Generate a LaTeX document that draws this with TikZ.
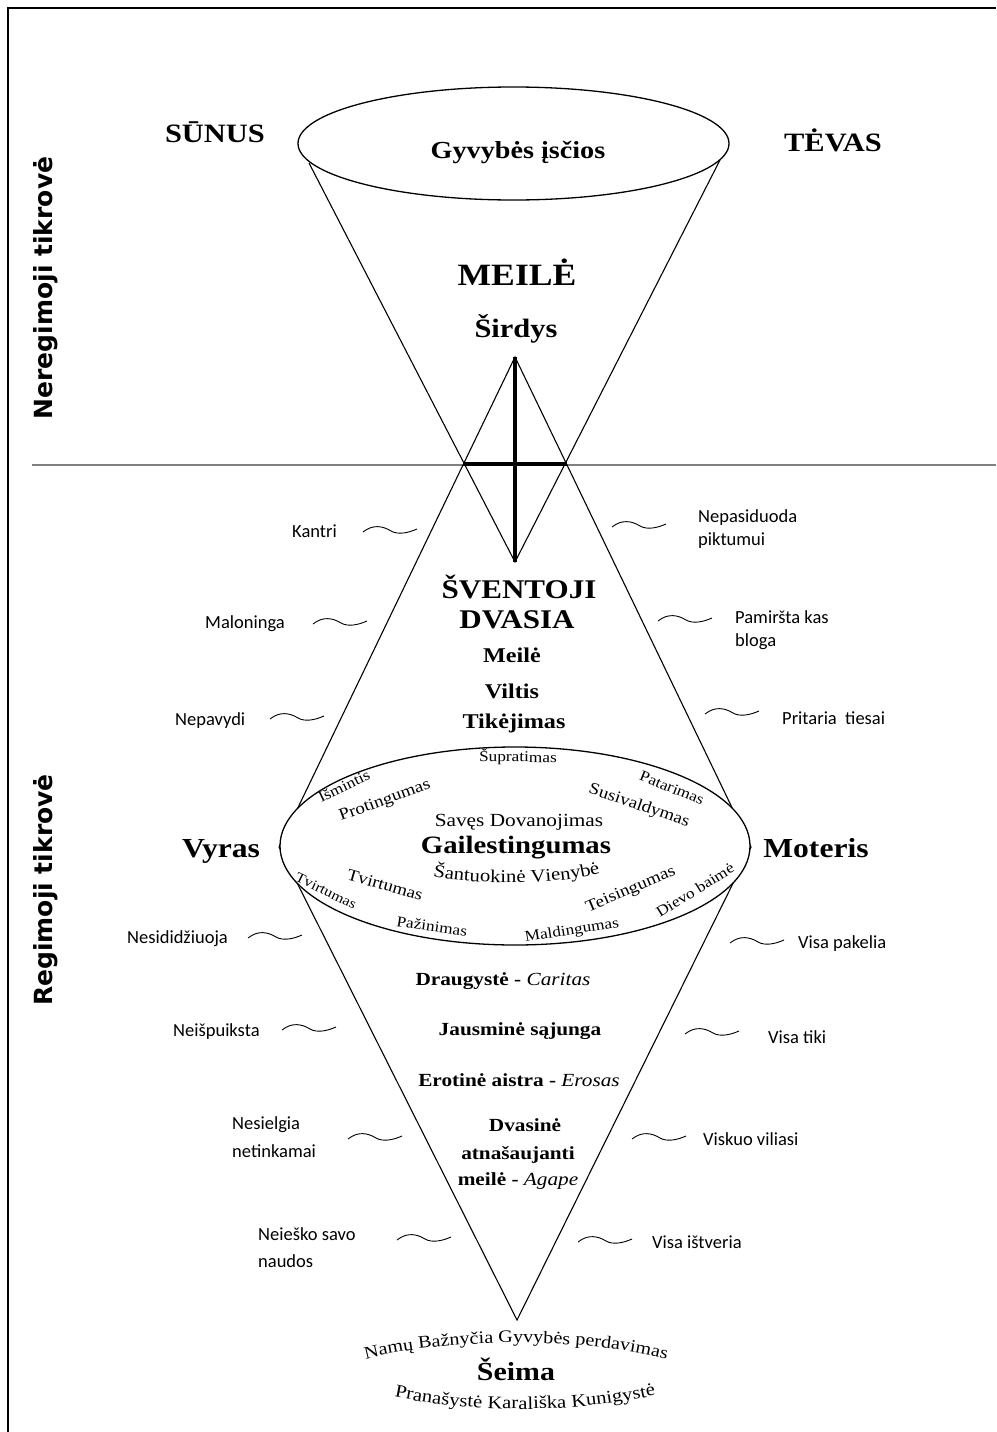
\documentclass[tikz,border=0pt]{standalone}
\usepackage{fontspec}
\setmainfont{Liberation Serif}[FakeStretch=1.15]
\newfontfamily\labfont{Carlito}
\newfontfamily\vertfont{DejaVu Sans}
\usetikzlibrary{decorations.text}
\begin{document}
\begin{tikzpicture}[x=1pt,y=-1pt,
  thin line/.style={line width=1.1pt, black},
  big/.style={font=\bfseries\fontsize{26.5}{30}\selectfont, anchor=base, inner sep=0pt},
  huge/.style={font=\bfseries\fontsize{31}{34}\selectfont, anchor=base, inner sep=0pt},
  mid/.style={font=\bfseries\fontsize{21}{24}\selectfont, anchor=base, inner sep=0pt},
  lab/.style={font=\labfont\fontsize{18.5}{22}\selectfont, anchor=base west, inner sep=0pt},
  innertxt/.style={font=\fontsize{16.5}{18}\selectfont, inner sep=0pt},
  outertxt/.style={font=\fontsize{15}{17}\selectfont, inner sep=0pt},
  love/.style={font=\bfseries\fontsize{18.5}{21}\selectfont, anchor=base, inner sep=0pt},
  vert/.style={font=\vertfont\bfseries\fontsize{25}{28}\selectfont, rotate=90, inner sep=0pt},
  wave/.pic={\draw[line width=0.9pt] (0,0) .. controls (10,-8) and (20,-6) .. (28,-1) .. controls (35,3) and (45,1) .. (54,-3);}
]
\useasboundingbox (0,0) rectangle (996,1432);
% frame
\draw[line width=1.6pt] (8,1432) -- (8,8) -- (996,8);
% horizon line
\draw[line width=2.2pt, black!50] (32,465) -- (996,465);

% coordinates
\coordinate (cL) at (309,163);
\coordinate (cR) at (720,160);
\coordinate (cA) at (515,562);
\coordinate (dT) at (515,357);
\coordinate (dL) at (279,847);
\coordinate (dB) at (517,1320);
\coordinate (dR) at (751,847);
\coordinate (hL) at (463,464);
\coordinate (hR) at (567,464);

% top cone
\draw[thin line] (cL) -- (cA) -- (cR);
% diamond
\draw[thin line] (dT) -- (dL) -- (dB) -- (dR) -- cycle;
% top ellipse
\draw[line width=1.3pt] (513.5,143.5) ellipse [x radius=215.5pt, y radius=56.5pt];
% lower ellipse
\draw[line width=1.3pt, fill=white] (515,846) ellipse [x radius=235pt, y radius=99pt];
% cross
\draw[line width=3.6pt] (dT) -- (cA);
\draw[line width=3.6pt] (hL) -- (hR);

% top texts
\node[big] (sunus) at (215,142) {SŪNUS};
\node[big] (tevas) at (833,151) {TĖVAS};
\node[big, font=\bfseries\fontsize{24.5}{28}\selectfont] (gyv) at (518,158) {Gyvybės įsčios};
\node[huge] (meile) at (517,285) {MEILĖ};
\node[big] (sird) at (516,337) {Širdys};

% vertical texts
\node[vert] (nereg) at (46,288) {Neregimoji tikrovė};
\node[vert] (reg) at (46,890) {Regimoji tikrovė};

% Holy spirit
\node[big, font=\bfseries\fontsize{27}{30}\selectfont] (svent) at (519,598) {ŠVENTOJI};
\node[big, font=\bfseries\fontsize{27}{30}\selectfont] (dvas) at (517,628) {DVASIA};
\node[mid] (meile2) at (512,662) {Meilė};
\node[mid] (viltis) at (512,698) {Viltis};
\node[mid] (tikej) at (514,728) {Tikėjimas};

% ellipse content
\node[outertxt, rotate=-1] (supr) at (518,757) {Šupratimas};
\node[outertxt, rotate=26] (ismin) at (344,786) {Išmintis};
\node[innertxt, rotate=20] (proting) at (385,801) {Protingumas};
\node[outertxt, rotate=-22] (patar) at (672,788) {Patarimas};
\node[innertxt, rotate=-19] (susiv) at (639,806) {Susivaldymas};
\node[font=\fontsize{18.5}{20}\selectfont, anchor=base, inner sep=0pt] (saves) at (519,826) {Savęs Dovanojimas};
\node[font=\bfseries\fontsize{25}{28}\selectfont, anchor=base, inner sep=0pt] (gail) at (516,853) {Gailestingumas};
\path[decorate, decoration={text along path, text align=center,
  text={|\fontsize{18}{20}\selectfont|Šantuokinė Vienybė}}]
  (425,874) .. controls (460,886) and (572,886) .. (608,870);
\node[innertxt, rotate=-16] (tvirt) at (385,885) {Tvirtumas};
\node[outertxt, font=\fontsize{14}{16}\selectfont, rotate=-26] (tvirt2) at (326,891) {Tvirtumas};
\node[outertxt, rotate=-8] (pazin) at (432,926) {Pažinimas};
\node[outertxt, rotate=9] (malding) at (572,931) {Maldingumas};
\node[innertxt, rotate=23] (teis) at (631,890) {Teisingumas};
\node[outertxt, rotate=32] (dievo) at (695,890) {Dievo baimė};

% man and woman
\node[big, font=\bfseries\fontsize{27.5}{30}\selectfont] (vyras) at (221,857) {Vyras};
\node[big, font=\bfseries\fontsize{27.5}{30}\selectfont] (moteris) at (816,857) {Moteris};

% kinds of love
\node[love] (drau) at (503,985) {Draugystė - {\mdseries\itshape Caritas}};
\node[love] (jaus) at (520,1035) {Jausminė sąjunga};
\node[love] (erot) at (519,1086) {Erotinė aistra - {\mdseries\itshape Erosas}};
\node[love] (dvasine) at (525,1131) {Dvasinė};
\node[love] (atnas) at (518,1159) {atnašaujanti};
\node[love] (agape) at (518,1185) {meilė - {\mdseries\itshape Agape}};

% family
\path[decorate, decoration={text along path, text align=center,
  text={|\fontsize{17.5}{20}\selectfont|Namų Bažnyčia Gyvybės perdavimas}}]
  (352,1363) .. controls (440,1336) and (592,1336) .. (680,1363);
\node[big, font=\bfseries\fontsize{26}{30}\selectfont] (seima) at (516,1380) {Šeima};
\path[decorate, decoration={text along path, text align=center,
  text={|\fontsize{18}{20}\selectfont|Pranašystė Karališka Kunigystė}}]
  (374,1392) .. controls (466,1415) and (584,1415) .. (676,1390);

% left labels
\node[lab] (kantri) at (292,537) {Kantri};
\node[lab] (malon) at (205,628) {Maloninga};
\node[lab] (nepav) at (175,725) {Nepavydi};
\node[lab] (nesid) at (127,943) {Nesididžiuoja};
\node[lab] (neisp) at (173,1036) {Neišpuiksta};
\node[lab] (nesie1) at (232,1129) {Nesielgia};
\node[lab] (nesie2) at (232,1157) {netinkamai};
\node[lab] (neies1) at (258,1240) {Neieško savo};
\node[lab] (neies2) at (258,1267) {naudos};
% right labels
\node[lab] (nepas1) at (698,522) {Nepasiduoda};
\node[lab] (nepas2) at (698,545) {piktumui};
\node[lab] (pam1) at (735,623) {Pamiršta kas};
\node[lab] (pam2) at (735,646) {bloga};
\node[lab] (prit) at (782,724) {Pritaria~~tiesai};
\node[lab] (vpak) at (798,948) {Visa pakelia};
\node[lab] (vtik) at (768,1043) {Visa tiki};
\node[lab] (vvil) at (703,1145) {Viskuo viliasi};
\node[lab] (vist) at (652,1248) {Visa ištveria};

% waves
\pic at (363,532) {wave};
\pic at (313,624) {wave};
\pic at (270,719) {wave};
\pic at (248,938) {wave};
\pic at (282,1030) {wave};
\pic at (348,1139) {wave};
\pic at (397,1240) {wave};
\pic at (612,527) {wave};
\pic at (658,621) {wave};
\pic at (705,714) {wave};
\pic at (730,943) {wave};
\pic at (685,1034) {wave};
\pic at (632,1139) {wave};
\pic at (578,1242) {wave};
\end{tikzpicture}
\end{document}
